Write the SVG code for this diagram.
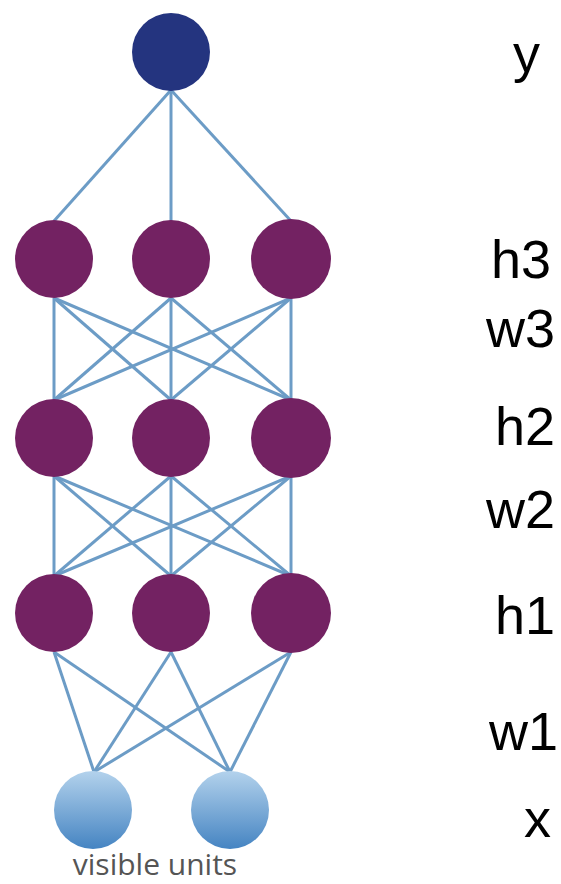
<svg xmlns="http://www.w3.org/2000/svg" width="561" height="884" viewBox="0 0 561 884">
<style>
.e{stroke:#6c9cc6;stroke-width:3;fill:none}
.h{fill:#732262}
.lbl{font-family:"Liberation Sans",Arial,sans-serif;font-size:54px;fill:#000}
.vis{font-family:"Open Sans","DejaVu Sans",sans-serif;font-size:30px;fill:#555}
</style>
<defs>
<linearGradient id="vg" x1="0" y1="0" x2="0" y2="1">
<stop offset="0" stop-color="#b3d2ec"/>
<stop offset="1" stop-color="#4584c2"/>
</linearGradient>
</defs>
<rect width="561" height="884" fill="#fff"/>
<g id="connectors">
<line class="e" x1="171" y1="90" x2="54" y2="221"/>
<line class="e" x1="171" y1="90" x2="171" y2="221"/>
<line class="e" x1="171" y1="90" x2="291" y2="221"/>
<line class="e" x1="54" y1="298" x2="54" y2="400"/>
<line class="e" x1="54" y1="298" x2="171" y2="400"/>
<line class="e" x1="54" y1="298" x2="291" y2="400"/>
<line class="e" x1="171" y1="298" x2="54" y2="400"/>
<line class="e" x1="171" y1="298" x2="171" y2="400"/>
<line class="e" x1="171" y1="298" x2="291" y2="400"/>
<line class="e" x1="291" y1="298" x2="54" y2="400"/>
<line class="e" x1="291" y1="298" x2="171" y2="400"/>
<line class="e" x1="291" y1="298" x2="291" y2="400"/>
<line class="e" x1="54" y1="476" x2="54" y2="576"/>
<line class="e" x1="54" y1="476" x2="171" y2="576"/>
<line class="e" x1="54" y1="476" x2="291" y2="576"/>
<line class="e" x1="171" y1="476" x2="54" y2="576"/>
<line class="e" x1="171" y1="476" x2="171" y2="576"/>
<line class="e" x1="171" y1="476" x2="291" y2="576"/>
<line class="e" x1="291" y1="476" x2="54" y2="576"/>
<line class="e" x1="291" y1="476" x2="171" y2="576"/>
<line class="e" x1="291" y1="476" x2="291" y2="576"/>
<line class="e" x1="54" y1="652" x2="94" y2="772"/>
<line class="e" x1="54" y1="652" x2="230" y2="772"/>
<line class="e" x1="171" y1="652" x2="94" y2="772"/>
<line class="e" x1="171" y1="652" x2="230" y2="772"/>
<line class="e" x1="291" y1="652" x2="94" y2="772"/>
<line class="e" x1="291" y1="652" x2="230" y2="772"/>
</g>
<g id="y"><circle cx="171" cy="52" r="39" fill="#24347f"/></g>
<g id="h3_1"><circle class="h" cx="54" cy="259" r="39"/></g>
<g id="h3_2"><circle class="h" cx="171" cy="259" r="39"/></g>
<g id="h3_3"><circle class="h" cx="291" cy="259" r="40"/></g>
<g id="h2_1"><circle class="h" cx="54" cy="438" r="39"/></g>
<g id="h2_2"><circle class="h" cx="171" cy="438" r="39"/></g>
<g id="h2_3"><circle class="h" cx="291" cy="438" r="40"/></g>
<g id="h1_1"><circle class="h" cx="54" cy="613" r="39"/></g>
<g id="h1_2"><circle class="h" cx="171" cy="613" r="39"/></g>
<g id="h1_3"><circle class="h" cx="291" cy="613" r="40"/></g>
<g id="v1"><circle cx="93" cy="810" r="39" fill="url(#vg)"/></g>
<g id="v2"><circle cx="230" cy="810" r="39" fill="url(#vg)"/></g>
<text class="vis" x="155" y="875" text-anchor="middle">visible units</text>
<g id="labels">
<text class="lbl" x="513" y="72">y</text>
<text class="lbl" x="491" y="278">h3</text>
<text class="lbl" x="486" y="347">w3</text>
<text class="lbl" x="495" y="445">h2</text>
<text class="lbl" x="486" y="528">w2</text>
<text class="lbl" x="495" y="634">h1</text>
<text class="lbl" x="489" y="750">w1</text>
<text class="lbl" x="524" y="837">x</text>
</g>
</svg>
